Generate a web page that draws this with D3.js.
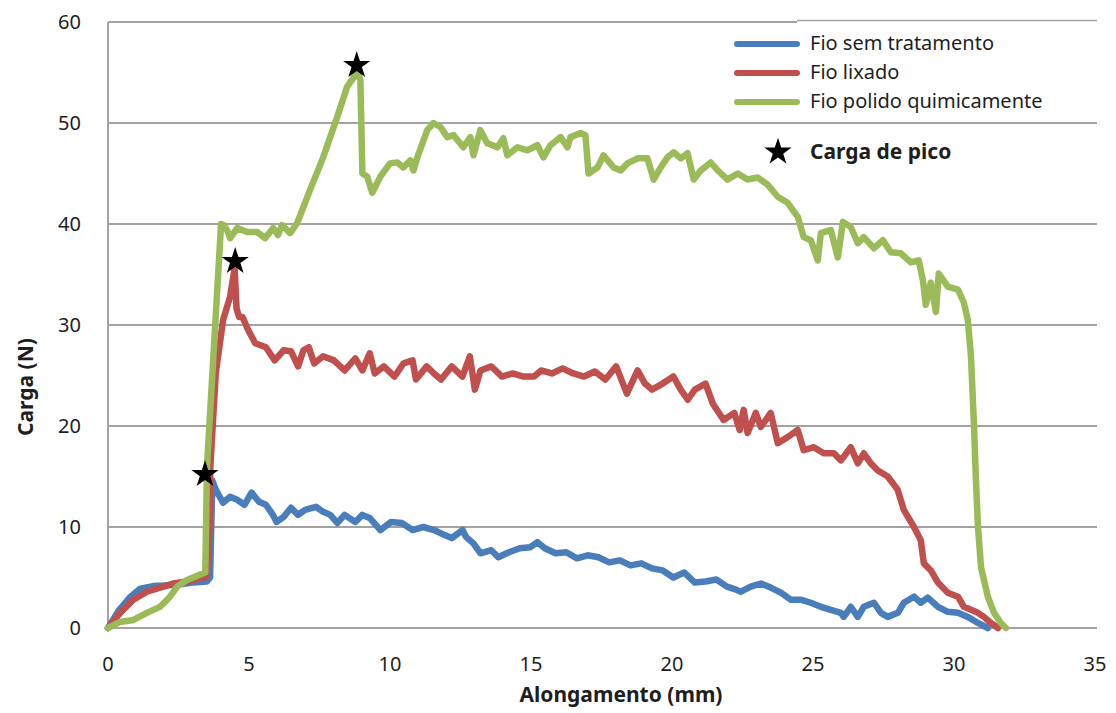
<!DOCTYPE html>
<html>
<head>
<meta charset="utf-8">
<script src="https://cdn.jsdelivr.net/npm/d3@7"></script>
<style>
  html, body { margin: 0; padding: 0; background: #fff; }
  svg { display: block; }
  text { font-family: "Noto Sans", "Open Sans", sans-serif; fill: #1e1e1e; }
</style>
</head>
<body>
<svg id="chart" width="1116" height="713"></svg>
<script>
// Tensile test curves: load (N) versus elongation (mm)
const xTicks = [0, 5, 10, 15, 20, 25, 30, 35];
const yTicks = [0, 10, 20, 30, 40, 50, 60];

const seriesNames = ["Fio sem tratamento", "Fio lixado", "Fio polido quimicamente"];
const seriesColors = ["#4A7EBB", "#C0504D", "#9BBB59"];

// [elongation mm, load N]
const semTratamento = [
  [0,0],[0.4,1.8],[0.8,3.1],[1.15,3.9],[1.6,4.15],[2.0,4.2],[2.5,4.3],[3.0,4.5],[3.5,4.6],[3.62,5.0],
  [3.70,14.6],[3.82,13.7],[4.08,12.4],[4.33,13.0],[4.58,12.7],[4.84,12.2],[5.09,13.4],[5.35,12.5],
  [5.60,12.2],[5.85,11.2],[5.98,10.5],[6.23,11.0],[6.49,11.9],[6.74,11.2],[6.99,11.7],[7.37,12.0],
  [7.63,11.5],[7.88,11.2],[8.13,10.4],[8.39,11.2],[8.77,10.5],[9.02,11.2],[9.28,10.9],[9.66,9.7],
  [10.04,10.5],[10.42,10.4],[10.80,9.7],[11.18,10.0],[11.56,9.7],[11.94,9.2],[12.19,8.9],[12.57,9.7],
  [12.70,9.0],[12.95,8.4],[13.21,7.4],[13.59,7.7],[13.84,7.0],[14.22,7.5],[14.60,7.9],[14.98,8.0],
  [15.23,8.5],[15.49,7.9],[15.87,7.4],[16.25,7.5],[16.63,6.9],[17.01,7.2],[17.39,7.0],[17.77,6.5],
  [18.15,6.7],[18.53,6.2],[18.91,6.4],[19.29,5.9],[19.67,5.7],[20.05,5.0],[20.43,5.5],[20.81,4.5],
  [21.19,4.6],[21.57,4.8],[21.95,4.1],[22.27,3.8],[22.44,3.6],[22.79,4.1],[23.15,4.4],[23.50,4.0],
  [23.86,3.5],[24.21,2.8],[24.56,2.8],[24.92,2.5],[25.28,2.1],[25.63,1.8],[25.99,1.5],[26.09,1.1],
  [26.34,2.1],[26.59,1.1],[26.80,2.1],[27.16,2.5],[27.41,1.5],[27.65,1.1],[28.01,1.5],[28.22,2.5],
  [28.58,3.1],[28.82,2.5],[29.07,3.0],[29.43,2.1],[29.78,1.6],[30.14,1.5],[30.49,1.1],[30.85,0.5],[31.2,0]
];

const lixado = [
  [0,0],[0.43,1.5],[0.9,2.8],[1.38,3.6],[1.85,4.0],[2.3,4.4],[2.8,4.6],[3.5,5.1],[3.6,10],[3.63,16],
  [3.82,25.2],[4.08,30.5],[4.33,32.8],[4.46,35.1],[4.49,35.6],[4.56,31.6],[4.65,30.8],[4.77,30.8],
  [4.97,29.5],[5.22,28.2],[5.60,27.8],[5.91,26.5],[6.23,27.5],[6.49,27.4],[6.74,25.9],[6.93,27.5],
  [7.12,27.8],[7.31,26.2],[7.63,26.9],[8.01,26.5],[8.39,25.5],[8.77,26.7],[9.02,25.5],[9.28,27.2],
  [9.46,25.2],[9.78,25.9],[10.16,24.9],[10.48,26.2],[10.80,26.5],[10.92,24.6],[11.30,25.9],[11.56,25.2],
  [11.81,24.6],[12.19,25.9],[12.57,24.9],[12.83,26.9],[13.01,23.6],[13.21,25.5],[13.59,25.9],[13.97,24.9],
  [14.35,25.2],[14.73,24.9],[15.11,24.9],[15.36,25.5],[15.74,25.2],[16.12,25.7],[16.50,25.2],[16.88,24.9],
  [17.26,25.4],[17.64,24.6],[18.02,25.9],[18.40,23.2],[18.78,25.5],[19.04,24.2],[19.29,23.6],[19.67,24.2],
  [20.05,24.9],[20.31,23.6],[20.56,22.6],[20.81,23.6],[21.19,24.2],[21.45,22.2],[21.83,20.6],[22.21,21.3],
  [22.40,19.6],[22.54,21.6],[22.68,19.3],[22.97,21.3],[23.15,19.9],[23.50,21.3],[23.75,18.3],[24.10,18.9],
  [24.46,19.6],[24.67,17.6],[25.03,17.9],[25.38,17.3],[25.74,17.3],[25.99,16.6],[26.34,17.9],[26.59,16.3],
  [26.80,17.3],[27.05,16.3],[27.30,15.6],[27.65,15.0],[28.0,13.7],[28.22,11.7],[28.58,10.0],[28.82,8.7],
  [28.93,6.4],[29.18,5.7],[29.43,4.5],[29.78,3.5],[30.14,3.1],[30.35,2.1],[30.60,1.8],[30.85,1.5],
  [31.06,1.1],[31.31,0.5],[31.56,0]
];

const polido = [
  [0,0],[0.43,0.6],[0.9,0.8],[1.38,1.5],[1.85,2.1],[2.2,3.1],[2.45,4.1],[2.8,4.75],[3.45,5.5],[3.51,16],
  [4.01,40.0],[4.10,39.9],[4.22,39.4],[4.33,38.6],[4.58,39.6],[4.93,39.2],[5.29,39.2],[5.57,38.6],
  [5.86,39.6],[6.03,38.9],[6.17,39.9],[6.46,39.1],[6.71,40.1],[7.17,43.4],[7.63,46.6],[8.13,50.6],
  [8.48,53.6],[8.84,55.0],[8.95,54.3],[9.02,45.0],[9.19,44.7],[9.37,43.1],[9.66,44.7],[10.0,46.0],
  [10.26,46.1],[10.47,45.6],[10.72,46.3],[10.83,45.3],[10.97,46.6],[11.32,49.3],[11.54,50.0],[11.79,49.6],
  [12.03,48.6],[12.25,48.8],[12.60,47.6],[12.85,48.6],[12.96,46.8],[13.2,49.3],[13.45,48.0],[13.81,47.6],
  [14.02,48.5],[14.16,46.8],[14.52,47.6],[14.87,47.3],[15.23,47.8],[15.44,46.6],[15.69,47.8],[16.05,48.6],
  [16.29,47.6],[16.40,48.6],[16.76,49.0],[16.93,48.8],[17.04,45.0],[17.36,45.6],[17.57,46.8],[17.93,45.6],
  [18.18,45.3],[18.42,46.0],[18.78,46.5],[19.13,46.5],[19.35,44.4],[19.60,45.6],[19.84,46.6],[20.06,47.1],
  [20.31,46.5],[20.55,47.0],[20.77,44.4],[21.02,45.3],[21.37,46.1],[21.62,45.3],[21.97,44.4],[22.33,45.0],
  [22.68,44.4],[23.04,44.6],[23.39,43.9],[23.75,42.7],[24.10,42.1],[24.46,40.7],[24.67,38.7],[24.92,38.4],
  [25.17,36.4],[25.28,39.1],[25.63,39.4],[25.88,36.7],[26.06,40.2],[26.34,39.7],[26.59,38.1],[26.80,38.7],
  [27.16,37.6],[27.48,38.4],[27.76,37.2],[28.11,37.1],[28.47,36.2],[28.75,36.4],[28.90,34.4],[29.00,32.0],
  [29.18,34.2],[29.36,31.3],[29.46,35.1],[29.78,33.8],[30.14,33.5],[30.35,32.2],[30.49,30.5],[30.6,27],
  [30.71,20],[30.78,14.5],[30.85,10],[30.96,6],[31.2,3.1],[31.42,1.5],[31.66,0.5],[31.84,0]
];

// Peak load marker for each wire
const picos = [[3.44, 15.2], [4.51, 36.3], [8.82, 55.7]];
const picoLabel = "Carga de pico";
const xTitle = "Alongamento (mm)";
const yTitle = "Carga (N)";

const svg = d3.select("#chart");
const x = d3.scaleLinear().domain([0, 35]).range([108, 1095]);
const y = d3.scaleLinear().domain([0, 60]).range([628, 22]);
const gridColor = "#a3a3a3";

// horizontal gridlines
svg.append("g").selectAll("line").data(yTicks).join("line")
  .attr("x1", x(0)).attr("x2", x(35) + 2)
  .attr("y1", d => y(d)).attr("y2", d => y(d))
  .attr("stroke", gridColor).attr("stroke-width", 2);

// vertical axis line
svg.append("line")
  .attr("x1", x(0)).attr("x2", x(0)).attr("y1", y(60)).attr("y2", y(0))
  .attr("stroke", gridColor).attr("stroke-width", 2);

// tick labels
svg.append("g").selectAll("text").data(yTicks).join("text")
  .attr("x", 81).attr("y", d => y(d) + 7)
  .attr("text-anchor", "end").attr("font-size", 20)
  .text(d => d);
svg.append("g").selectAll("text").data(xTicks).join("text")
  .attr("x", d => x(d)).attr("y", 671)
  .attr("text-anchor", "middle").attr("font-size", 20)
  .text(d => d);

// axis titles
svg.append("text").attr("x", 621).attr("y", 702)
  .attr("text-anchor", "middle").attr("font-size", 21).attr("font-weight", "bold")
  .text(xTitle);
svg.append("text").attr("transform", "translate(33,387) rotate(-90)")
  .attr("text-anchor", "middle").attr("font-size", 21).attr("font-weight", "bold")
  .text(yTitle);

// curves
const line = d3.line().x(d => x(d[0])).y(d => y(d[1]));
[semTratamento, lixado, polido].forEach((s, i) => {
  svg.append("path").datum(s)
    .attr("d", line)
    .attr("fill", "none")
    .attr("stroke", seriesColors[i])
    .attr("stroke-width", 6.5)
    .attr("stroke-linejoin", "round")
    .attr("stroke-linecap", "round");
});

// peak markers
const star = d3.symbol().type(d3.symbolStar).size(230);
svg.append("g").selectAll("path").data(picos).join("path")
  .attr("transform", d => `translate(${x(d[0])},${y(d[1])})`)
  .attr("d", star).attr("fill", "#000");

// legend
const lg = svg.append("g");
lg.append("rect").attr("x", 797).attr("y", 20).attr("width", 300).attr("height", 102)
  .attr("fill", "#fff");
lg.append("line").attr("x1", 797).attr("x2", 1097).attr("y1", 20.5).attr("y2", 20.5)
  .attr("stroke", gridColor).attr("stroke-width", 1.6);
const rowY = [44, 73, 102];
seriesNames.forEach((name, i) => {
  lg.append("line").attr("x1", 737).attr("x2", 797)
    .attr("y1", rowY[i]).attr("y2", rowY[i])
    .attr("stroke", seriesColors[i]).attr("stroke-width", 6)
    .attr("stroke-linecap", "round");
  lg.append("text").attr("x", 810).attr("y", rowY[i] + 6)
    .attr("font-size", 20).text(name);
});
lg.append("path").attr("transform", "translate(778,152)").attr("d", star).attr("fill", "#000");
lg.append("text").attr("x", 810).attr("y", 159)
  .attr("font-size", 21).attr("font-weight", "bold").text(picoLabel);
</script>
</body>
</html>
